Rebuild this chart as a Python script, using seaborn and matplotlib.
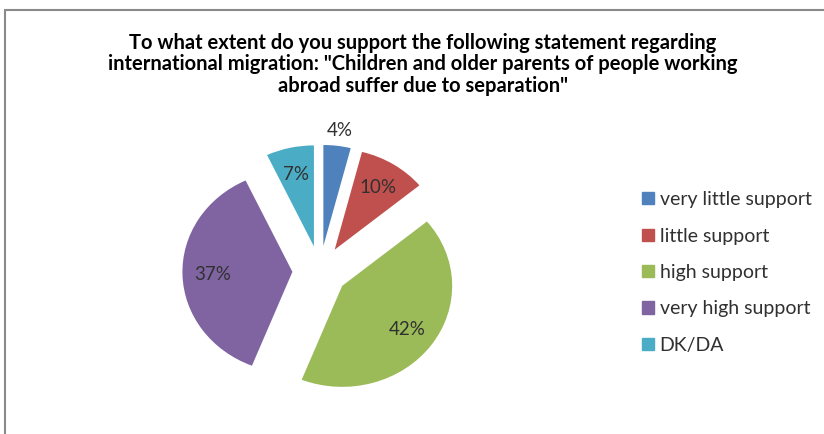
import numpy as np
import matplotlib
matplotlib.use("Agg")
import matplotlib.pyplot as plt
import seaborn as sns
from matplotlib.lines import Line2D

# Survey answers (share of respondents, %)
categories = ['very little support', 'little support', 'high support',
              'very high support', 'DK/DA']
shares = [4, 10, 42, 37, 7]
slice_colors = ['#4F81BD', '#C0504D', '#9BBB59', '#8064A2', '#4BACC6']
title = ('To what extent do you support the following statement regarding\n'
         'international migration: "Children and older parents of people working\n'
         'abroad suffer due to separation"')

sns.set_theme(style="white")
plt.rcParams['font.family'] = ['Lato', 'DejaVu Sans']
palette = sns.color_palette(slice_colors)

fig = plt.figure(figsize=(8.24, 4.34), dpi=100)
ax = fig.add_axes([0.188, 0.0265, 0.4005, 0.698])

wedges, _, pct_texts = ax.pie(
    shares, colors=palette, startangle=90, counterclock=False,
    explode=[0.25] * len(shares), autopct=lambda p: f'{p:.0f}%',
    pctdistance=0.73, textprops=dict(fontsize=13.5, color='#303030'),
    wedgeprops=dict(linewidth=0))

# the smallest slice has its label pushed outside the wedge
x, y = pct_texts[0].get_position()
cx, cy = wedges[0].center
pct_texts[0].set_position((cx + (x - cx) * 1.58, cy + (y - cy) * 1.58))

ax.set_xlim(-1.5, 1.5)
ax.set_ylim(-1.5, 1.5)
ax.set_aspect('auto')
ax.axis('off')

fig.text(0.513, 0.925, title, ha='center', va='top', fontsize=14.5,
         fontweight='bold', color='black', linespacing=1.12)

handles = [plt.Rectangle((0, 0), 1, 1, color=c) for c in palette]
fig.legend(handles, categories, loc='upper left', bbox_to_anchor=(0.758, 0.6),
           frameon=False, fontsize=14, handlelength=0.6, handleheight=0.6,
           handletextpad=0.3, labelspacing=1.0, labelcolor='#303030')

# chart-area frame, cropped on the right and bottom
fig.add_artist(Line2D([5 / 824, 5 / 824], [0, 1 - 10 / 434], color='#8a8a8a', lw=1.5))
fig.add_artist(Line2D([5 / 824, 1], [1 - 10 / 434, 1 - 10 / 434], color='#8a8a8a', lw=1.5))

fig.savefig('out.png', dpi=100)
